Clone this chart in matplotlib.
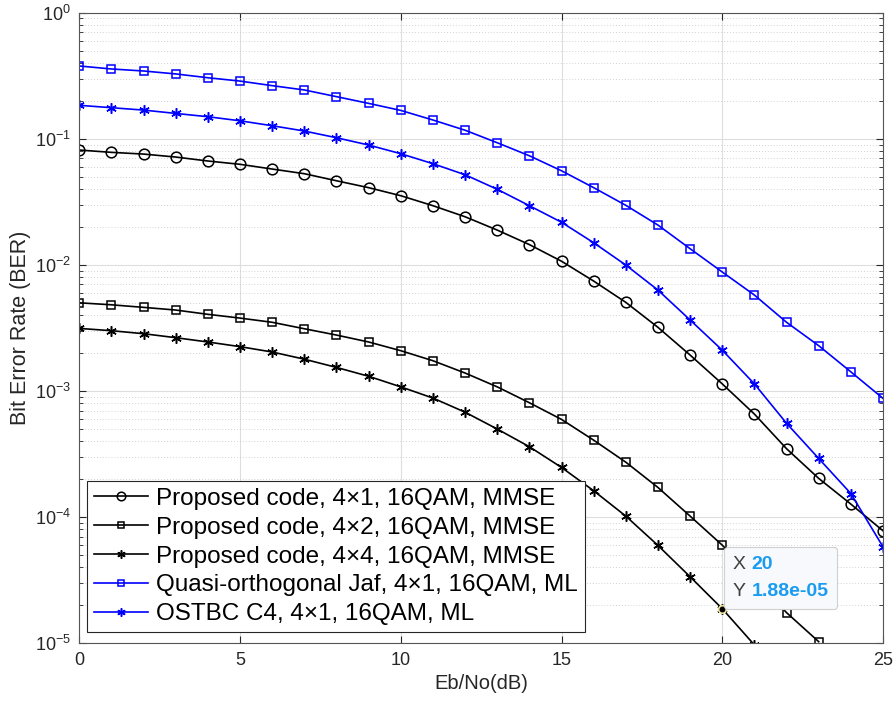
import numpy as np
import matplotlib.pyplot as plt
from matplotlib.ticker import LogLocator, NullFormatter
from matplotlib.offsetbox import TextArea, HPacker, VPacker, AnnotationBbox

plt.rcParams['font.family'] = ['Liberation Sans', 'DejaVu Sans']

# Eb/No axis (dB)
snr = np.arange(0, 26)

# BER curves
ber_41_mmse = [0.0815, 0.0781, 0.0757, 0.0717, 0.0667, 0.0628, 0.0576, 0.0529, 0.0465,
               0.0410, 0.0354, 0.0295, 0.0241, 0.0189, 0.0145, 0.0107, 0.00745, 0.00505,
               0.0032, 0.00193, 0.00114, 0.000657, 0.000349, 0.000203, 0.000127, 7.8e-5]
ber_42_mmse = [0.00501, 0.00483, 0.00461, 0.00439, 0.00406, 0.00379, 0.00351, 0.00312,
               0.00278, 0.00245, 0.00209, 0.00174, 0.00139, 0.00108, 0.000808, 0.000596,
               0.000408, 0.000273, 0.000172, 0.000102, 6.0e-5, 3.3e-5, 1.75e-5, 1.03e-5]
ber_44_mmse = [0.00314, 0.00301, 0.00285, 0.00265, 0.00245, 0.00225, 0.00204, 0.00179,
               0.00154, 0.00131, 0.00108, 0.00088, 0.00068, 0.0005, 0.000362, 0.000248,
               0.000162, 0.000102, 5.97e-5, 3.37e-5, 1.88e-5, 9.7e-6]
ber_jaf_ml = [0.378, 0.358, 0.345, 0.327, 0.305, 0.287, 0.264, 0.244, 0.216, 0.191, 0.168,
              0.141, 0.117, 0.0931, 0.0734, 0.0558, 0.0410, 0.0297, 0.0207, 0.01345,
              0.00879, 0.00577, 0.00351, 0.00229, 0.00142, 0.000875]
ber_ostbc_ml = [0.1844, 0.1765, 0.169, 0.159, 0.1497, 0.139, 0.127, 0.1153, 0.102, 0.0893,
                0.0762, 0.0635, 0.0519, 0.0398, 0.0295, 0.0218, 0.0150, 0.00998, 0.00632,
                0.00366, 0.00211, 0.00114, 0.000555, 0.000292, 0.000154, 5.82e-5]

labels = ['Proposed code, 4\u00d71, 16QAM, MMSE',
          'Proposed code, 4\u00d72, 16QAM, MMSE',
          'Proposed code, 4\u00d74, 16QAM, MMSE',
          'Quasi-orthogonal Jaf, 4\u00d71, 16QAM, ML',
          'OSTBC C4, 4\u00d71, 16QAM, ML']

# data tip
tip_x = 20
tip_y = 1.88e-5

asterisk = (6, 2, 0)

fig = plt.figure(figsize=(8.95, 7.02), dpi=100)
ax = fig.add_axes([0.0886, 0.0836, 0.898, 0.8983])

kw = dict(lw=1.2, mfc='none', mew=1.1)
ax.plot(snr[:len(ber_41_mmse)], ber_41_mmse, color='k', marker='o', ms=7.7, label=labels[0], **kw)
ax.plot(snr[:len(ber_42_mmse)], ber_42_mmse, color='k', marker='s', ms=6, label=labels[1], **kw)
ax.plot(snr[:len(ber_44_mmse)], ber_44_mmse, color='k', marker=asterisk, ms=7.5, label=labels[2], **kw)
ax.plot(snr[:len(ber_jaf_ml)], ber_jaf_ml, color='b', marker='s', ms=6, label=labels[3], **kw)
ax.plot(snr[:len(ber_ostbc_ml)], ber_ostbc_ml, color='b', marker=asterisk, ms=7.5, label=labels[4], **kw)

ax.set_yscale('log')
ax.set_xlim(0, 25)
ax.set_ylim(1e-5, 1)
ax.set_xticks(np.arange(0, 26, 5))
ax.yaxis.set_minor_locator(LogLocator(base=10, subs=np.arange(2, 10), numticks=20))
ax.yaxis.set_minor_formatter(NullFormatter())

ax.grid(True, which='major', color='#dedede', lw=0.8, ls='-')
ax.grid(True, which='minor', axis='y', color='#c4c4c4', lw=0.6, ls=(0, (1, 2.5)))
ax.set_axisbelow(True)

ax.tick_params(which='both', direction='in', top=True, right=True, colors='#262626',
               labelsize=13, labelcolor='#262626')
ax.tick_params(which='major', length=5, pad=6)
ax.tick_params(which='minor', length=3)
for sp in ax.spines.values():
    sp.set_color('#555555')
    sp.set_linewidth(0.8)

ax.set_xlabel('Eb/No(dB)', fontsize=14.5, color='#262626', labelpad=4)
ax.set_ylabel('Bit Error Rate (BER)', fontsize=15.5, color='#262626', labelpad=3)

leg = ax.legend(loc='lower left', bbox_to_anchor=(0.01, 0.018), borderaxespad=0,
                fontsize=17.5, handlelength=2.2, handletextpad=0.35, labelspacing=0.28,
                borderpad=0.28, fancybox=False, framealpha=1, edgecolor='#262626',
                markerscale=0.8)
leg.get_frame().set_linewidth(0.8)

# data tip marker and box
ax.plot([tip_x], [tip_y], marker='o', ms=5.5, color='k', mec='#f0e6a0', mew=1.2, zorder=6)
tip_fs = 14
row_x = HPacker(children=[TextArea('X ', textprops=dict(color='#404040', fontsize=tip_fs)),
                          TextArea(f'{tip_x}', textprops=dict(color='#1a9cf0', fontsize=tip_fs, fontweight='bold'))],
                align='baseline', pad=0, sep=0)
row_y = HPacker(children=[TextArea('Y ', textprops=dict(color='#404040', fontsize=tip_fs)),
                          TextArea(f'{tip_y:.2e}', textprops=dict(color='#1a9cf0', fontsize=tip_fs, fontweight='bold'))],
                align='baseline', pad=0, sep=0)
tip_box = VPacker(children=[row_x, row_y], align='left', pad=0, sep=7)
ab = AnnotationBbox(tip_box, (tip_x, tip_y), xybox=(8, 6.5), boxcoords='offset points',
                    box_alignment=(0, 0), frameon=True,
                    bboxprops=dict(boxstyle='round,pad=0.65,rounding_size=0.25',
                                   fc='#f8f9fc', ec='#d0d0d0', lw=0.8))
ab.set_zorder(7)
ax.add_artist(ab)

fig.savefig('out.png', dpi=100)
